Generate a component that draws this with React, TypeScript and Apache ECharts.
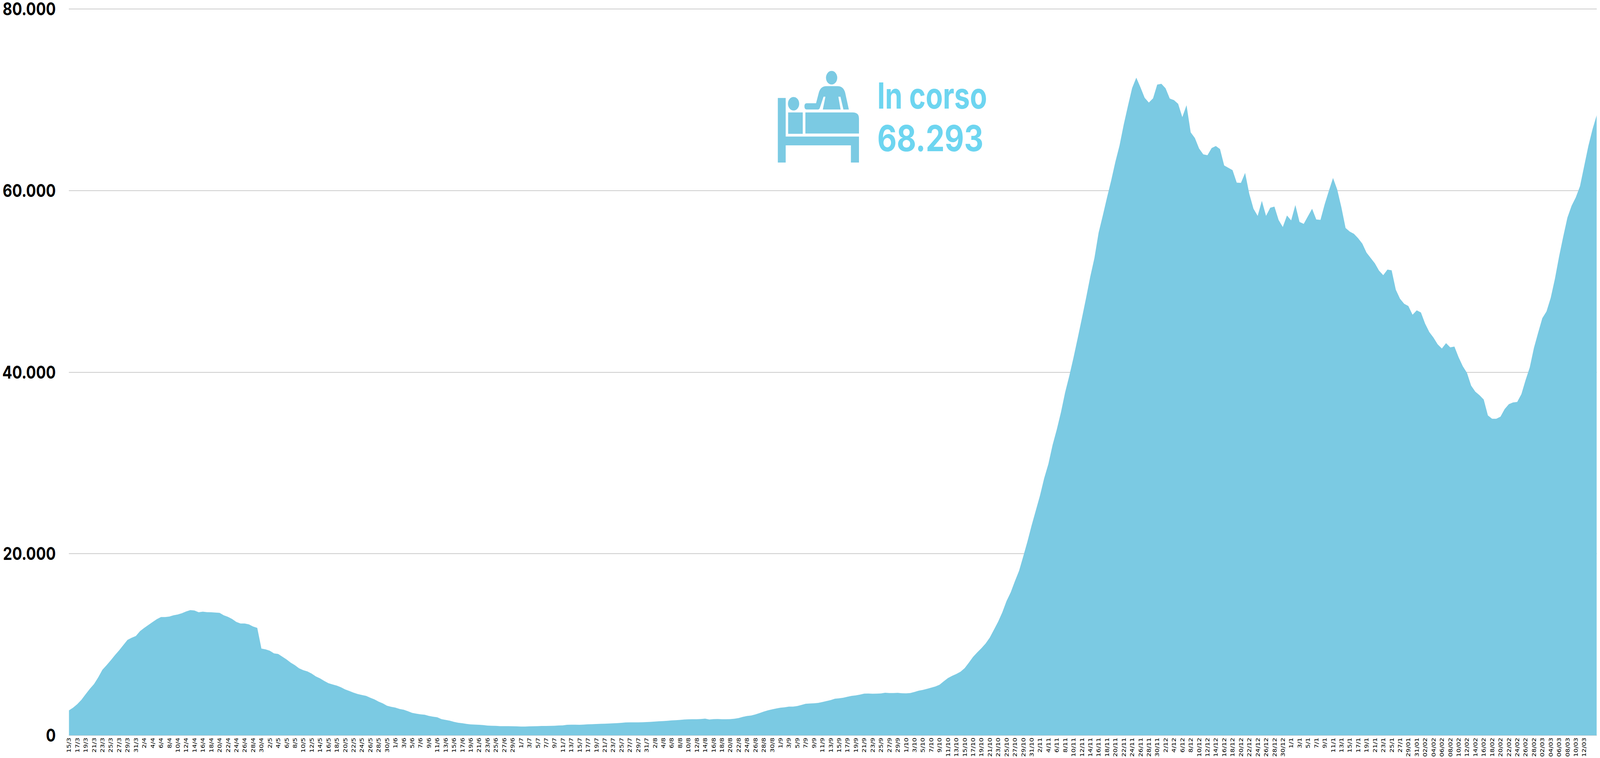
import React, { useEffect, useRef } from "react";
import * as echarts from "echarts";

const tickLabels = [
  "15/3","17/3","19/3","21/3","23/3","25/3","27/3","29/3","31/3",
  "2/4","4/4","6/4","8/4","10/4","12/4","14/4","16/4","18/4","20/4","22/4","24/4","26/4","28/4","30/4",
  "2/5","4/5","6/5","8/5","10/5","12/5","14/5","16/5","18/5","20/5","22/5","24/5","26/5","28/5","30/5",
  "1/6","3/6","5/6","7/6","9/6","11/6","13/6","15/6","17/6","19/6","21/6","23/6","25/6","27/6","29/6",
  "1/7","3/7","5/7","7/7","9/7","11/7","13/7","15/7","17/7","19/7","21/7","23/7","25/7","27/7","29/7","31/7",
  "2/8","4/8","6/8","8/8","10/8","12/8","14/8","16/8","18/8","20/8","22/8","24/8","26/8","28/8","30/8",
  "1/9","3/9","5/9","7/9","9/9","11/9","13/9","15/9","17/9","19/9","21/9","23/9","25/9","27/9","29/9",
  "1/10","3/10","5/10","7/10","9/10","11/10","13/10","15/10","17/10","19/10","21/10","23/10","25/10","27/10","29/10","31/10",
  "2/11","4/11","6/11","8/11","10/11","12/11","14/11","16/11","18/11","20/11","22/11","24/11","26/11","28/11","30/11",
  "2/12","4/12","6/12","8/12","10/12","12/12","14/12","16/12","18/12","20/12","22/12","24/12","26/12","28/12","30/12",
  "1/1","3/1","5/1","7/1","9/1","11/1","13/1","15/1","17/1","19/1","21/1","23/1","25/1","27/1","29/01","31/01",
  "02/02","04/02","06/02","08/02","10/02","12/02","14/02","16/02","18/02","20/02","22/02","24/02","26/02","28/02",
  "02/03","04/03","06/03","08/03","10/03","12/03","14/03",
];

const firstWave = [
  2744,3044,3430,3916,4531,5117,5646,6375,7218,7718,8261,8833,9362,9934,10505,10748,10934,11477,11834,12149,
  12478,12792,13021,13021,13078,13221,13307,13450,13635,13793,13750,13550,13621,13564,13550,13521,13493,13221,13049,12806,
  12492,12320,12320,12220,11978,11834,9548,9462,9319,9019,8962,8662,8361,8004,7718,7375,7175,7032,6803,6489,6275,5989,
];
const springDecline = [
  5746,5603,5474,5288,5060,4888,4702,4545,4445,4345,4145,3959,3716,3516,3259,3144,3059,2901,2816,2658,
  2473,2387,2315,2272,2144,2058,1987,1787,1701,1615,1486,1386,1329,1258,1201,1186,1158,1129,1072,1058,
  1043,1015,1015,1008,1000,986,972,972,986,1000,1008,1029,1036,1043,1058,1086,1100,1158,1172,1172,
  1158,1186,1215,1222,1251,1272,1279,1301,1322,1344,1372,1415,1429,1429,1429,1443,1465,1486,
];
const summerRise = [
  1522,1544,1572,1608,1644,1672,1701,1744,1765,1772,1779,1801,1844,1744,1787,1794,1772,1772,1787,1830,
  1901,2030,2130,2187,2301,2458,2616,2758,2859,2959,3044,3087,3159,3166,3230,3345,3473,3509,3530,3573,
  3673,3773,3888,4030,4073,4145,4245,4345,4402,4488,4588,4602,4581,4595,4616,4688,4659,4659,4680,4631,
  4623,4659,4774,4917,5002,5117,5246,5374,5574,
];
const secondWaveRise = [
  5950,6300,6550,6750,7000,7400,8000,8635,9127,9592,10112,10768,11643,12518,13557,14788,15745,16976,18124,19710,
  21351,23129,24770,26411,28325,29884,31962,33660,35573,37761,39590,41589,43731,45912,48156,50500,
  52560,55350,57240,59210,61095,63145,64950,67250,69300,71270,72420,
];
const winterPlateau = [
  71350,70200,69680,70140,71650,71740,71240,70120,69940,69530,68070,69380,66395,65770,64620,63970,63880,64660,64890,64560,
  62750,62490,62230,60850,60830,61930,59620,57980,57200,58850,57200,58090,58220,56745,55975,57240,56700,58390,56530,56320,
  57160,57980,56800,56760,58470,59950,61370,
];
const thirdWave = [
  60100,58130,55860,55470,55220,54730,54140,53150,52560,51970,51160,50670,51280,51210,49070,48080,47520,47270,46310,46800,
  46560,45330,44410,43800,43060,42590,43180,42720,42810,41630,40650,39910,38510,37840,37450,36980,35230,34860,34860,35080,
  35920,36460,36660,36710,37570,39120,40520,42670,44340,45940,46680,48160,50250,52710,54930,57020,58320,59240,60470,62680,
  64900,66750,68293,
];

const values = [...firstWave, ...springDecline, ...summerRise, ...secondWaveRise, ...winterPlateau, ...thirdWave];
const categories = values.map((_, i) => (i % 2 === 0 ? tickLabels[i / 2] ?? "" : ""));

const calloutTitle = "In corso";
const calloutValue = "68.293";

const AREA = "#7bcae3";
const CALLOUT = "#6dd5f0";
const DESIGN_WIDTH = 4901;
const DESIGN_HEIGHT = 1940;

const ICON_PATH =
  "M231 393H273V689H664V889H621V757H273V889H231Z" +
  "M286 504H364V668H286Z" +
  "M378 504H630Q664 504 664 550V666H378Z" +
  "M285 437A30 52 0 1 0 345 437A30 52 0 1 0 285 437Z" +
  "M488 237A30 52 0 1 0 548 237A30 52 0 1 0 488 237Z" +
  "M385 433H435L450 350Q460 302 490 302H550Q580 302 590 350L610 481H581L565 383H554L566 481H471L485 383H475L455 470Q452 481 445 481H385Q373 481 373 457Q373 433 385 433Z";

echarts.graphic.registerShape("bedIcon", echarts.graphic.extendPath(ICON_PATH, {}));

export default function App() {
  const ref = useRef<HTMLDivElement>(null);
  // Measured in the sandbox: the window asked for as 4901x1940 really is 4096x1940, and anything past x=4096 is lost.
  // The chart is laid out at the reference's 4901x1940 and squeezed horizontally to the real window width (about 0.836 there;
  // 1 in a window that is truly 4901 wide), so glyphs are about 16% narrower than in the reference in that window.
  const fit = Math.min(1, window.innerWidth / DESIGN_WIDTH);
  useEffect(() => {
    document.body.style.margin = "0";
    const chart = echarts.init(ref.current!, undefined, { renderer: "svg", width: DESIGN_WIDTH, height: DESIGN_HEIGHT });
    chart.setOption({
      animation: false,
      backgroundColor: "#ffffff",
      grid: { left: 211, right: 10, top: 21, bottom: 53.3, containLabel: false },
      xAxis: {
        type: "category",
        data: categories,
        boundaryGap: false,
        axisLine: { show: false },
        axisTick: { show: false },
        axisLabel: {
          interval: 1,
          rotate: 90,
          margin: 6,
          showMinLabel: true,
          showMaxLabel: false,
          hideOverlap: false,
          color: "#000000",
          fontFamily: "DejaVu Sans",
          fontSize: 17,
        },
      },
      yAxis: {
        type: "value",
        min: 0,
        max: 80000,
        interval: 20000,
        axisLine: { show: false },
        axisTick: { show: false },
        splitLine: { show: true, lineStyle: { color: "#cccccc", width: 2 } },
        axisLabel: {
          margin: 40,
          color: "#000000",
          fontFamily: "Inter",
          fontWeight: 700,
          fontSize: 45,
          lineHeight: 36,
          formatter: (v: number) => String(v).replace(/(\d)(?=(\d{3})$)/, "$1."),
        },
      },
      series: [
        {
          type: "line",
          data: values,
          showSymbol: false,
          symbol: "none",
          smooth: false,
          lineStyle: { width: 0 },
          itemStyle: { color: AREA },
          areaStyle: { color: AREA, opacity: 1 },
        },
      ],
      graphic: [
        {
          type: "bedIcon",
          x: 2250,
          y: 120,
          scaleX: 900 / 1568,
          scaleY: 1 / 3,
          style: { fill: AREA },
        },
        {
          type: "text",
          x: 2687,
          y: 245,
          scaleX: 0.933,
          style: {
            text: calloutTitle,
            fill: CALLOUT,
            fontFamily: "Inter",
            fontWeight: 700,
            fontSize: 92,
            textAlign: "left",
            verticalAlign: "middle",
          },
        },
        {
          type: "text",
          x: 2687,
          y: 353,
          style: {
            text: calloutValue,
            fill: CALLOUT,
            fontFamily: "Inter",
            fontWeight: 700,
            fontSize: 92,
            textAlign: "left",
            verticalAlign: "middle",
          },
        },
      ],
    });
    return () => chart.dispose();
  }, []);
  return (
    <div style={{ width: DESIGN_WIDTH * fit, height: DESIGN_HEIGHT, overflow: "hidden" }}>
      <div
        ref={ref}
        style={{
          width: DESIGN_WIDTH,
          height: DESIGN_HEIGHT,
          transform: `scaleX(${fit})`,
          transformOrigin: "0 0",
        }}
      />
    </div>
  );
}
